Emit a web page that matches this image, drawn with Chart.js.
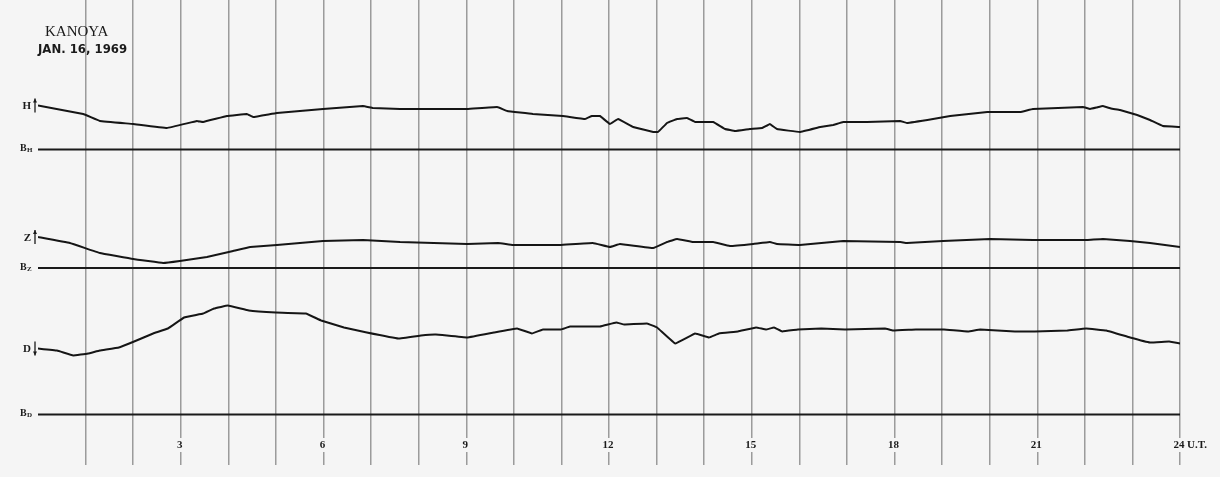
<!DOCTYPE html>
<html>
<head>
<meta charset="utf-8">
<script src="https://cdn.jsdelivr.net/npm/chart.js@4.4.1/dist/chart.umd.min.js"></script>
<style>
    html, body { margin: 0; padding: 0; background: #f5f5f5; }
    #wrap { width: 1220px; height: 477px; }
</style>
</head>
<body>
<div id="wrap"><canvas id="magnetogram"></canvas></div>
<script>
// Jam (U.T.) dan simpangan tiap komponen di atas garis dasarnya
const hHours = [0, 0.95, 1.3, 2.0, 2.71, 3.34, 3.47, 3.97, 4.39, 4.52, 5.02, 5.99, 6.83, 7.04, 7.61, 9.02, 9.65, 9.86, 10.4, 11.03, 11.5, 11.64, 11.81, 12.02, 12.19, 12.51, 12.93, 13.03, 13.22, 13.43, 13.64, 13.81, 14.19, 14.44, 14.65, 14.96, 15.22, 15.38, 15.53, 16.01, 16.44, 16.71, 16.92, 17.42, 18.12, 18.26, 18.81, 19.17, 19.95, 20.64, 20.91, 21.96, 22.11, 22.25, 22.38, 22.55, 22.74, 23.1, 23.37, 23.64, 24];
const hValues = [44, 35.5, 28.5, 25.5, 21.5, 28.5, 27.5, 33.5, 35.5, 32.5, 36.5, 40.5, 43.5, 41.5, 40.5, 40.5, 42.5, 38.5, 35.5, 33.5, 30.5, 33.5, 33.5, 25.5, 30.5, 22.5, 17.5, 17.5, 26.5, 30.5, 31.5, 27.5, 27.5, 20.5, 18.5, 20.5, 21.5, 25.5, 20.5, 17.5, 22.5, 24.5, 27.5, 27.5, 28.5, 26.5, 30.5, 33.5, 37.5, 37.5, 40.5, 42.5, 40.5, 42, 43.5, 41, 39.5, 34.5, 29.5, 23.5, 22.5];

const zHours = [0, 0.67, 1.3, 2.0, 2.63, 2.98, 3.55, 4.1, 4.46, 5.02, 5.99, 6.83, 7.61, 9.02, 9.67, 9.98, 10.97, 11.66, 12.02, 12.23, 12.93, 13.22, 13.43, 13.77, 14.19, 14.54, 15.03, 15.38, 15.53, 16.01, 16.92, 18.12, 18.26, 19.02, 20.01, 20.91, 22.05, 22.38, 22.95, 23.37, 24];
const zValues = [31, 25, 15, 9, 5, 7, 11, 17, 21, 23, 27, 28, 26, 24, 25, 23, 23, 25, 21, 24, 20, 26, 29, 26, 26, 22, 24, 26, 24, 23, 27, 26, 25, 27, 29, 28, 28, 29, 27, 25, 21];

const dHours = [0, 0.4, 0.74, 1.05, 1.3, 1.7, 2.02, 2.42, 2.73, 3.07, 3.47, 3.7, 3.99, 4.43, 5.0, 5.63, 5.95, 6.43, 6.91, 7.57, 8.05, 8.36, 9.02, 9.58, 10.07, 10.38, 10.61, 10.99, 11.18, 11.81, 12.15, 12.32, 12.8, 13.01, 13.39, 13.81, 14.1, 14.31, 14.71, 15.09, 15.3, 15.47, 15.64, 15.97, 16.46, 16.96, 17.8, 17.97, 18.45, 19.04, 19.55, 19.8, 20.53, 20.95, 21.63, 22.03, 22.45, 22.95, 23.37, 23.77, 24];
const dValues = [66, 64, 59, 61, 64, 67, 73, 81, 86, 97, 101, 106, 109, 104, 102, 101, 94, 87, 82, 76, 79, 80, 77, 82, 86, 81, 85, 85, 88, 88, 92, 90, 91, 87, 71, 81, 77, 81, 83, 87, 85, 87, 83, 85, 86, 85, 86, 84, 85, 85, 83, 85, 83, 83, 84, 86, 84, 77, 72, 73, 71];

// Label sumbu waktu
const hourLabels = [3, 6, 9, 12, 15, 18, 21, 24];

// Posisi garis dasar (dalam satuan sumbu y)
const hBase = 315.5;
const zBase = 197;
const dBase = 50.5;

function toPoints(hours, values, base) {
    return hours.map((h, i) => ({ x: h, y: base + values[i] }));
}

function baseline(base) {
    return [{ x: 0, y: base }, { x: 24, y: base }];
}

// Plugin untuk latar belakang dan teks keterangan
const labelPlugin = {
    id: 'labels',
    beforeDraw(chart) {
        const c = chart.ctx;
        c.save();
        c.fillStyle = '#f5f5f5';
        c.fillRect(0, 0, chart.width, chart.height);
        c.restore();
    },
    afterDraw(chart) {
        const c = chart.ctx;
        const xs = chart.scales.x;
        const ys = chart.scales.y;
        c.save();
        c.fillStyle = '#1a1a1a';
        c.textBaseline = 'middle';

        // judul stasiun
        c.font = '15px "Liberation Serif", serif';
        c.textAlign = 'left';
        c.fillText('KANOYA', 45, 32);
        c.font = 'bold 13px "Liberation Sans Narrow", "DejaVu Sans Condensed", sans-serif';
        c.fillText('JAN. 16, 1969', 38, 50);

        // nama komponen dengan panah
        const comps = [
            { t: 'H', y: ys.getPixelForValue(hBase + hValues[0]), up: true },
            { t: 'Z', y: ys.getPixelForValue(zBase + zValues[0]), up: true },
            { t: 'D', y: ys.getPixelForValue(dBase + dValues[0]), up: false }
        ];
        comps.forEach(cp => {
            c.font = 'bold 11px "Liberation Serif", serif';
            c.textAlign = 'right';
            c.fillText(cp.t, 31, cp.y + 1);
            c.strokeStyle = '#1a1a1a';
            c.lineWidth = 1.3;
            c.beginPath();
            c.moveTo(35, cp.y - 7);
            c.lineTo(35, cp.y + 7);
            c.stroke();
            const tip = cp.up ? cp.y - 7 : cp.y + 7;
            const dir = cp.up ? 1 : -1;
            c.beginPath();
            c.moveTo(35, tip);
            c.lineTo(33, tip + 4 * dir);
            c.lineTo(37, tip + 4 * dir);
            c.closePath();
            c.fill();
        });

        // label garis dasar
        [[hBase, 'H'], [zBase, 'Z'], [dBase, 'D']].forEach(b => {
            const y = ys.getPixelForValue(b[0]);
            c.textAlign = 'left';
            c.font = 'bold 10px "Liberation Serif", serif';
            c.fillText('B', 20, y - 1);
            c.font = 'bold 7px "Liberation Serif", serif';
            c.fillText(b[1], 27, y + 1);
        });

        // label jam
        c.font = 'bold 11px "Liberation Serif", serif';
        c.textAlign = 'center';
        hourLabels.forEach(h => {
            const x = xs.getPixelForValue(h);
            const w = c.measureText(String(h)).width + 4;
            c.fillStyle = '#f5f5f5';
            c.fillRect(x - w / 2, 438, w, 14);
            c.fillStyle = '#1a1a1a';
            c.fillText(String(h), x - 1, 445);
        });
        c.textAlign = 'left';
        c.fillText('U.T.', xs.getPixelForValue(24) + 7, 445);
        c.restore();
    }
};

document.addEventListener('DOMContentLoaded', function () {
    const lineStyle = { borderColor: '#151515', borderWidth: 2, pointRadius: 0, tension: 0.05, fill: false };
    const baseStyle = { borderColor: '#1a1a1a', borderWidth: 2, pointRadius: 0, fill: false };

    new Chart(document.getElementById('magnetogram').getContext('2d'), {
        type: 'line',
        data: {
            datasets: [
                Object.assign({ label: 'H', data: toPoints(hHours, hValues, hBase) }, lineStyle),
                Object.assign({ label: 'Z', data: toPoints(zHours, zValues, zBase) }, lineStyle),
                Object.assign({ label: 'D', data: toPoints(dHours, dValues, dBase) }, lineStyle),
                Object.assign({ label: 'BH', data: baseline(hBase) }, baseStyle),
                Object.assign({ label: 'BZ', data: baseline(zBase) }, baseStyle),
                Object.assign({ label: 'BD', data: baseline(dBase) }, baseStyle)
            ]
        },
        options: {
            responsive: true,
            maintainAspectRatio: false,
            animation: false,
            layout: { padding: { left: 38, right: 40, top: 0, bottom: 12 } },
            plugins: {
                legend: { display: false },
                tooltip: { enabled: false }
            },
            scales: {
                x: {
                    type: 'linear',
                    min: 0,
                    max: 24,
                    ticks: { stepSize: 1, display: false },
                    border: { display: false },
                    grid: {
                        drawTicks: false,
                        lineWidth: 1.5,
                        color: ctx => (ctx.tick && ctx.tick.value === 0) ? 'rgba(0,0,0,0)' : 'rgba(95,95,95,0.6)'
                    }
                },
                y: {
                    display: false,
                    min: 0,
                    max: 465
                }
            }
        },
        plugins: [labelPlugin]
    });
});
</script>
</body>
</html>
